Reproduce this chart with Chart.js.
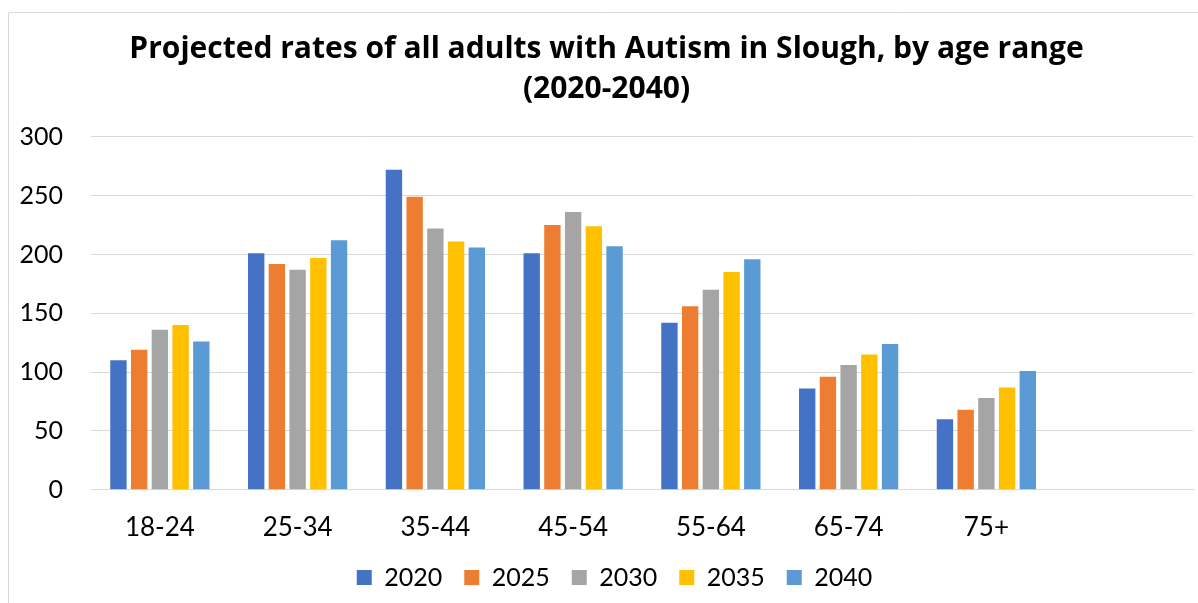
<!DOCTYPE html>
<html lang="en">
<head>
    <meta charset="UTF-8">
    <title>Autism projections - Slough</title>
    <script src="https://cdn.jsdelivr.net/npm/chart.js"></script>
    <style>
        body { margin: 0; background: #fff; }
        #wrap { width: 1198px; height: 603px; position: relative; }
    </style>
</head>
<body>

    <div id="wrap">
        <canvas id="autismChart"></canvas>
    </div>

    <script>
        // age ranges (last slot is empty in the original chart)
        const ageRanges = ['18-24', '25-34', '35-44', '45-54', '55-64', '65-74', '75+', ''];

        const years = ['2020', '2025', '2030', '2035', '2040'];
        const colours = ['#4472C4', '#ED7D31', '#A5A5A5', '#FFC000', '#5B9BD5'];

        const rates2020 = [110, 201, 272, 201, 142, 86, 60, null];
        const rates2025 = [119, 192, 249, 225, 156, 96, 68, null];
        const rates2030 = [136, 187, 222, 236, 170, 106, 78, null];
        const rates2035 = [140, 197, 211, 224, 185, 115, 87, null];
        const rates2040 = [126, 212, 206, 207, 196, 124, 101, null];

        const yTicks = { min: 0, max: 300, step: 50 };

        const allRates = [rates2020, rates2025, rates2030, rates2035, rates2040];

        // thin grey frame like the spreadsheet chart border
        const frame = {
            id: 'frame',
            afterDraw(chart) {
                const ctx = chart.ctx;
                ctx.save();
                ctx.strokeStyle = '#d9d9d9';
                ctx.lineWidth = 1;
                ctx.beginPath();
                ctx.moveTo(8.5, 603);
                ctx.lineTo(8.5, 12.5);
                ctx.lineTo(1198, 12.5);
                ctx.stroke();
                ctx.restore();
            }
        };

        // the original centres title and legend a bit right of the canvas middle
        const nudge = {
            id: 'nudge',
            afterLayout(chart) {
                if (chart.titleBlock) { chart.titleBlock.left += 10; chart.titleBlock.right += 10; }
                if (chart.legend) { chart.legend.left += 18; chart.legend.right += 18; }
            }
        };

        const ctx = document.getElementById('autismChart').getContext('2d');

        new Chart(ctx, {
            type: 'bar',
            data: {
                labels: ageRanges,
                datasets: years.map((yr, i) => ({
                    label: yr,
                    data: allRates[i],
                    backgroundColor: colours[i],
                    categoryPercentage: 0.752,
                    barPercentage: 0.79
                }))
            },
            options: {
                responsive: true,
                maintainAspectRatio: false,
                animation: false,
                layout: { padding: { top: 12, right: 5, bottom: 3, left: 0 } },
                plugins: {
                    title: {
                        display: true,
                        text: ['Projected rates of all adults with Autism in Slough, by age range', '(2020-2040)'],
                        color: '#000',
                        font: { family: 'Open Sans', size: 30, weight: 'bold', lineHeight: 1.33 },
                        padding: { top: 18, bottom: 27 }
                    },
                    legend: {
                        position: 'bottom',
                        labels: {
                            color: '#000',
                            font: { family: 'Lato', size: 25 },
                            boxWidth: 15,
                            boxHeight: 15,
                            padding: 22
                        }
                    },
                    tooltip: { enabled: false }
                },
                scales: {
                    x: {
                        afterFit(scale) { scale.height -= 22; },
                        grid: { display: false, drawTicks: false },
                        border: { display: true, color: '#d9d9d9' },
                        ticks: {
                            color: '#000',
                            font: { family: 'Lato', size: 26 },
                            padding: 22,
                            maxRotation: 0
                        }
                    },
                    y: {
                        min: yTicks.min,
                        max: yTicks.max,
                        afterFit(scale) { scale.width = 91; },
                        grid: { color: '#d9d9d9', drawTicks: false },
                        border: { display: false },
                        ticks: {
                            stepSize: yTicks.step,
                            color: '#000',
                            font: { family: 'Lato', size: 25 },
                            padding: 28
                        }
                    }
                }
            },
            plugins: [frame, nudge]
        });
    </script>
</body>
</html>
